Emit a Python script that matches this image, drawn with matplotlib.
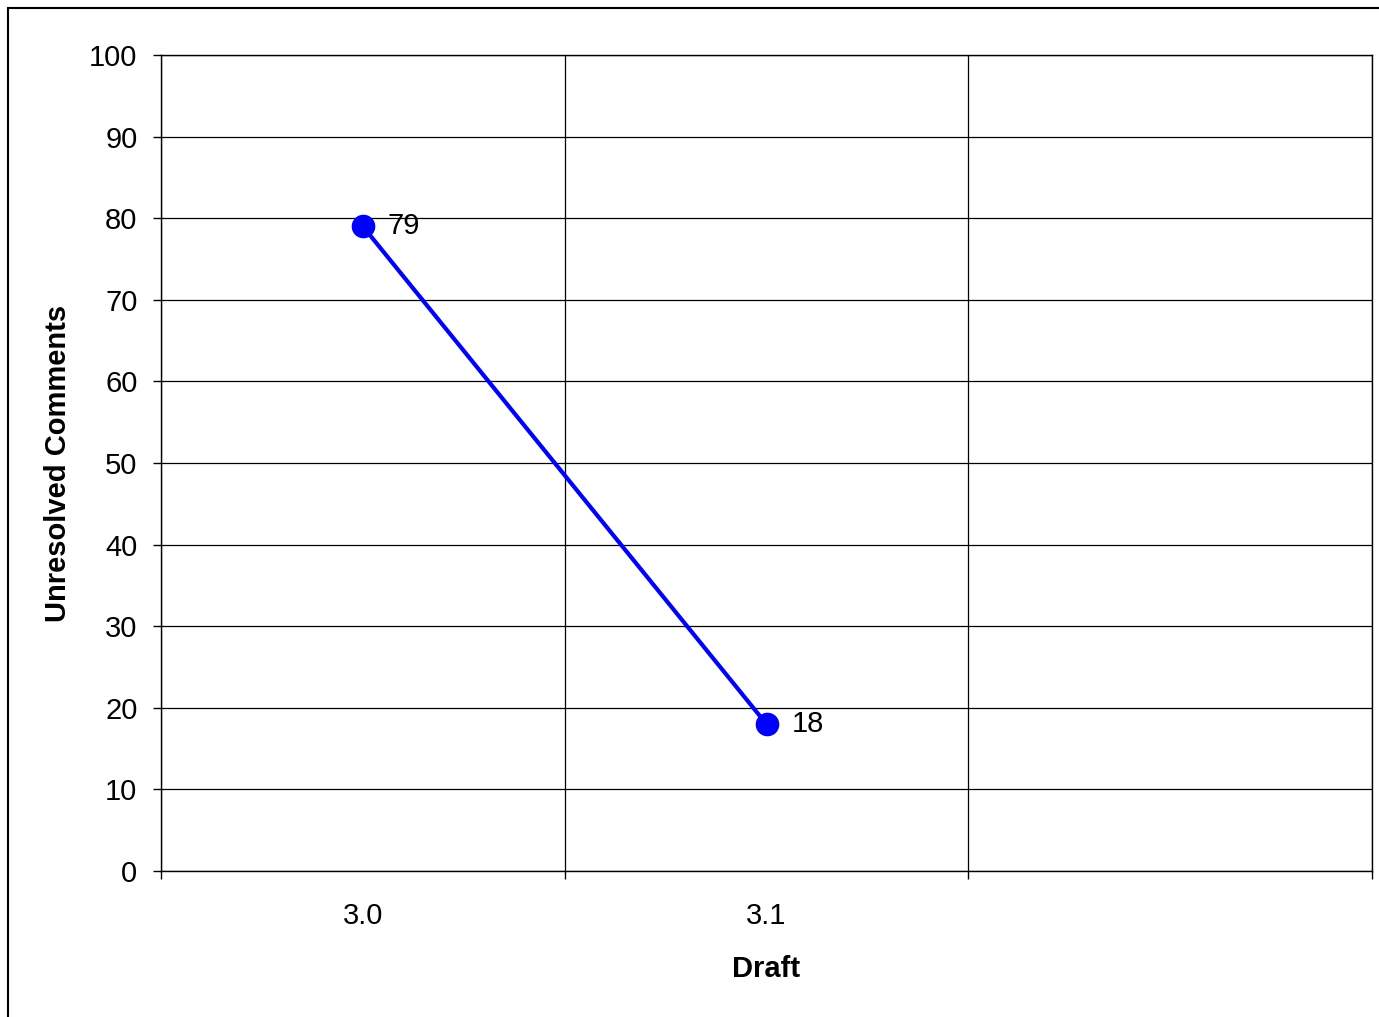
import numpy as np
import matplotlib.pyplot as plt
from matplotlib.patches import Rectangle

# chart data
drafts = ['3.0', '3.1', '']
unresolved = [79, 18, np.nan]
y_ticks = list(range(0, 101, 10))

plt.rcParams['font.family'] = ['Liberation Sans', 'DejaVu Sans']

fig = plt.figure(figsize=(13.79, 10.17), dpi=100)
ax = fig.add_axes([161 / 1379, 1 - 871 / 1017, (1372 - 161) / 1379, (871 - 55) / 1017])

x = np.arange(len(drafts))
ax.plot(x, unresolved, color='#0000ff', lw=3, marker='o', ms=16, zorder=3, clip_on=False)
for xi, v in zip(x, unresolved):
    if not np.isnan(v):
        ax.annotate(str(int(v)), (xi, v), xytext=(18, 0), textcoords='offset points',
                    va='center', ha='left', fontsize=21)

ax.set_xlim(-0.5, len(drafts) - 0.5)
ax.set_ylim(0, 100)
ax.set_yticks(y_ticks)
ax.set_yticklabels([str(t) for t in y_ticks])

# category boundaries carry the ticks, labels sit at the centres
ax.set_xticks(np.arange(len(drafts) + 1) - 0.5)
ax.set_xticklabels([])
ax.set_xticks(x, minor=True)
ax.set_xticklabels(drafts, minor=True)
ax.tick_params(axis='x', which='minor', length=0, pad=22, labelsize=21)
ax.tick_params(axis='x', which='major', length=6, width=1, direction='out')
ax.tick_params(axis='y', length=6, width=1, direction='out', pad=11, labelsize=21)

ax.grid(True, which='major', color='black', lw=0.9)
ax.set_axisbelow(True)
for s in ax.spines.values():
    s.set_color('black')
    s.set_linewidth(1)

ax.set_xlabel('Draft', fontsize=21, fontweight='bold', labelpad=18)
ax.set_ylabel('Unresolved Comments', fontsize=21, fontweight='bold', labelpad=12)

# outer chart border (right and bottom run off the picture)
fig.patches.append(Rectangle((8 / 1379, -0.05), 1.2, 1.05 - 7.5 / 1017,
                             transform=fig.transFigure, fill=False,
                             edgecolor='black', lw=1.5))

fig.savefig('out.png', dpi=100)
